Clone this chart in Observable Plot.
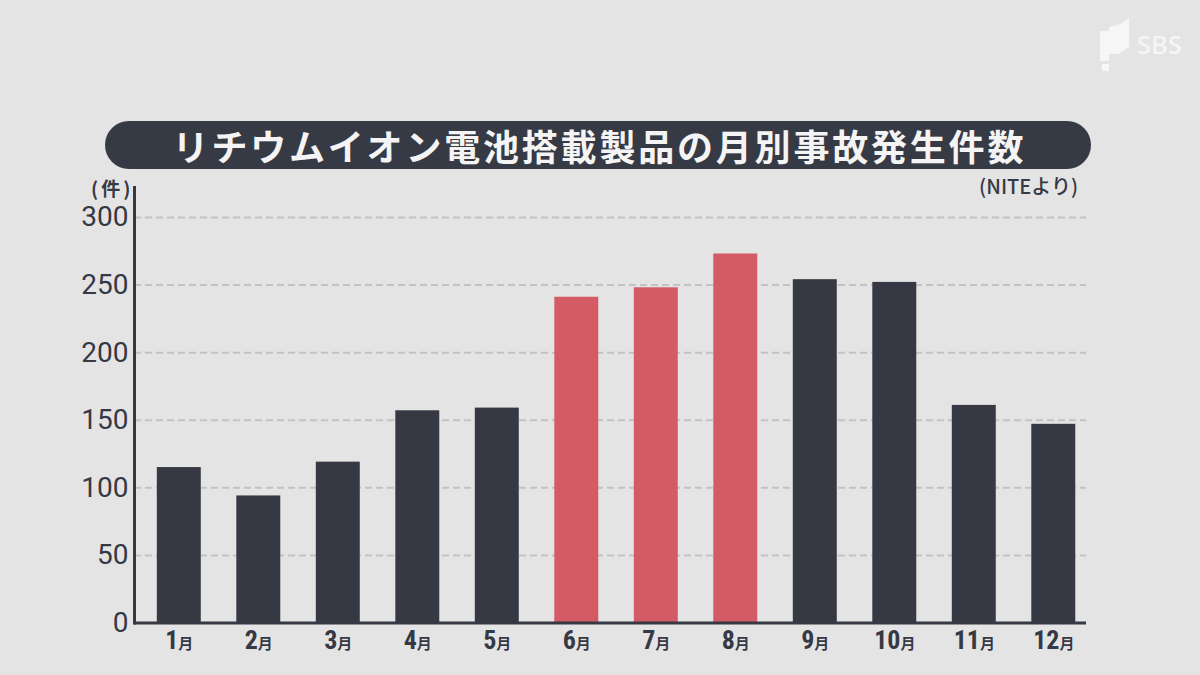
<!DOCTYPE html>
<html>
<head>
<meta charset="utf-8">
<script src="https://cdn.jsdelivr.net/npm/d3@7"></script>
<script src="https://cdn.jsdelivr.net/npm/@observablehq/plot@0.6"></script>
<style>
html, body { margin: 0; padding: 0; background: #e4e4e4; }
#wrap { position: relative; width: 1200px; height: 675px; overflow: hidden; font-family: "Noto Sans CJK JP", sans-serif; color: #363a45; }
#header { position: relative; height: 172px; }
#pill { position: absolute; left: 105px; top: 121px; width: 986px; height: 48px; border-radius: 24px; background: #363a45; color: #f4f4f4; font-size: 36px; font-weight: 700; letter-spacing: 2.8px; line-height: 48px; text-align: center; text-indent: 2.8px; white-space: nowrap; }
#unit { position: absolute; left: 91px; top: 178px; font-size: 19px; line-height: 19px; font-weight: 700; letter-spacing: 3px; z-index: 2; }
#source { position: absolute; right: 122px; top: 176px; font-size: 20px; line-height: 20px; font-weight: 500; z-index: 2; }
#logo { position: absolute; left: 1096px; top: 14px; }
#logotext { position: absolute; left: 1137px; top: 27px; font-family: "Noto Sans", sans-serif; font-size: 25px; font-weight: 500; color: #f6f6f6; letter-spacing: 0.5px; }
#chart { position: relative; }
</style>
</head>
<body>
<div id="wrap">
  <div id="header">
    <svg id="logo" width="40" height="60" viewBox="0 0 40 60">
      <path d="M4 17 L13 17 L13 13 L22 11 C27 9 31 6 33 3 L33 33 L22 40 L13 40 L13 47 L4 47 Z" fill="#f6f6f6"/>
      <rect x="6" y="50" width="7" height="7" fill="#f6f6f6"/>
    </svg>
    <div id="logotext">SBS</div>
    <div id="pill">リチウムイオン電池搭載製品の月別事故発生件数</div>
    <div id="unit">(件)</div>
    <div id="source">(NITEより)</div>
  </div>
  <div id="chart"></div>
</div>
<script>
const months = ["1月","2月","3月","4月","5月","6月","7月","8月","9月","10月","11月","12月"];
const counts = [115, 94, 119, 157, 159, 241, 248, 273, 254, 252, 161, 147];
const highlightMonths = ["6月","7月","8月"];
const yTicks = [0, 50, 100, 150, 200, 250, 300];

const data = months.map((m, i) => ({month: m, count: counts[i]}));

const dark = "#363944";
const red = "#d45a66";

const chart = Plot.plot({
  width: 1200,
  height: 503,
  marginLeft: 134,
  marginRight: 114,
  marginTop: 15,
  marginBottom: 52.5,
  style: {background: "transparent", fontFamily: "Roboto, 'Liberation Sans', 'Noto Sans CJK JP', sans-serif", color: dark},
  x: {domain: months, padding: 0.447, paddingOuter: 0.211, align: 0.68, round: false, label: null},
  y: {domain: [0, 322.2], label: null},
  marks: [
    Plot.ruleY(yTicks.filter(d => d > 0), {stroke: "#c2c2c2", strokeWidth: 2, strokeDasharray: "7,4"}),
    Plot.barY(data, {x: "month", y: "count", fill: d => highlightMonths.includes(d.month) ? red : dark}),
    Plot.ruleY([0], {stroke: dark, strokeWidth: 3}),
    Plot.frame({anchor: "left", stroke: dark, strokeWidth: 3}),
    Plot.axisY({ticks: yTicks, tickSize: 0, tickPadding: 6, fontSize: 28, fontWeight: 400, fill: dark, label: null}),
    Plot.axisX({tickSize: 0, tickPadding: 8, fontSize: 26, fontWeight: 700, fontFamily: "'Liberation Sans Narrow', 'Roboto Condensed', 'DejaVu Sans Condensed', sans-serif", fill: dark, label: null})
  ]
});

document.getElementById("chart").appendChild(chart);

// split "N月" labels into a large number and a smaller 月
d3.select(chart).selectAll('g[aria-label="x-axis tick label"] text').each(function() {
  const t = this.textContent;
  const num = t.replace("月", "");
  const sel = d3.select(this);
  sel.text("");
  sel.append("tspan").text(num);
  sel.append("tspan").attr("font-size", 15).attr("font-family", "'Noto Sans CJK JP', sans-serif").text("月");
});
</script>
</body>
</html>
